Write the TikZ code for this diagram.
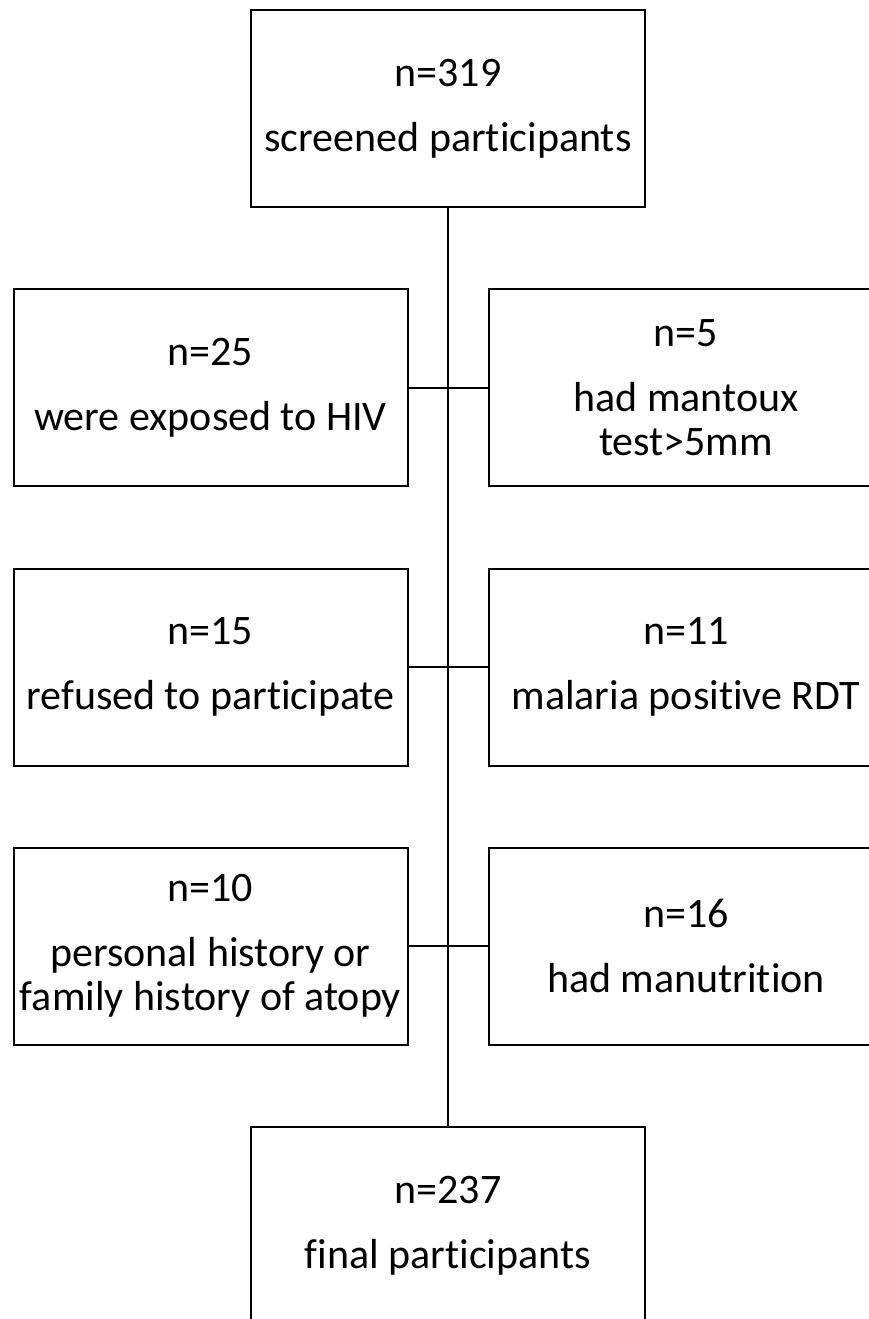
\documentclass[tikz,border=0pt]{standalone}
\usepackage{fontspec}
\setmainfont[Ligatures={NoCommon}]{Carlito}
\begin{document}
\begin{tikzpicture}[x=1pt,y=-1pt,
  box/.style={draw=black,line width=2pt,minimum width=394pt,minimum height=197pt,inner sep=0pt,align=center,font=\fontsize{42}{44}\selectfont},
  link/.style={draw=black,line width=2pt}]
\useasboundingbox (0,0) rectangle (869,1319);
\clip (0,0) rectangle (869,1319);
\node[box] (top) at (448,108.5) {n=319\\[21pt]screened participants};
\node[box] (l1) at (210.5,387.5) {n=25\\[21pt]were exposed to HIV};
\node[box] (r1) at (686,387.5) {n=5\\[21pt]had mantoux\\test>5mm};
\node[box] (l2) at (210.5,667) {n=15\\[21pt]refused to participate};
\node[box] (r2) at (686,667) {n=11\\[21pt]malaria positive RDT};
\node[box] (l3) at (210.5,946) {n=10\\[21pt]personal history or\\family history of atopy};
\node[box] (r3) at (686,946) {n=16\\[21pt]had manutrition};
\node[box] (bot) at (448,1225.5) {n=237\\[21pt]final participants};
\draw[link] (top.south) -- (bot.north);
\draw[link] (l1.east) -- (r1.west);
\draw[link] (l2.east) -- (r2.west);
\draw[link] (l3.east) -- (r3.west);
\end{tikzpicture}
\end{document}
